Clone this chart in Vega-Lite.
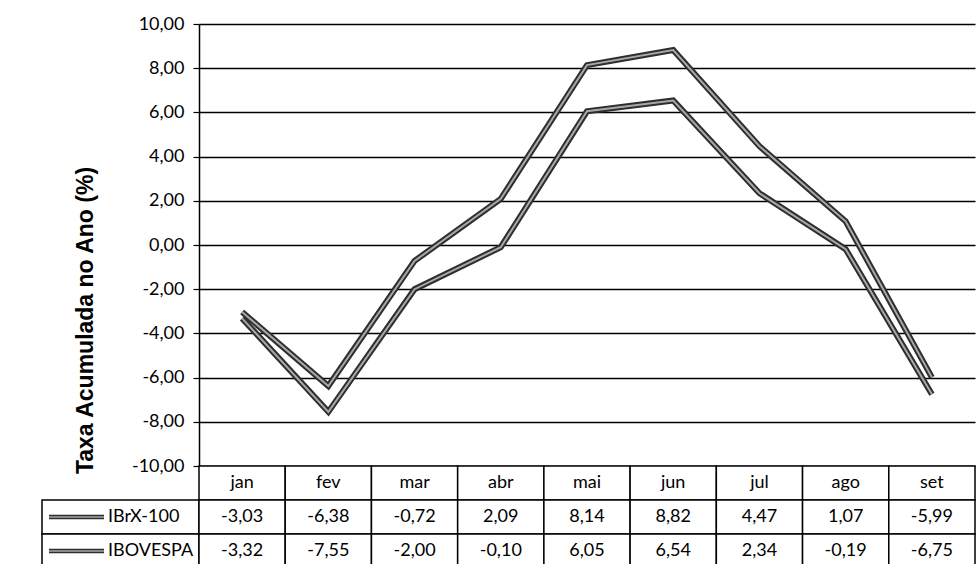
{
  "$schema": "https://vega.github.io/schema/vega-lite/v6.json",
  "padding": {"left": 40, "top": 15, "right": 0, "bottom": 0},
  "autosize": {"type": "pad"},
  "bounds": "flush",
  "spacing": 0,
  "columns": 2,
  "config": {
    "view": {"stroke": null},
    "font": "Lato",
    "locale": {"number": {"decimal": ",", "thousands": ".", "grouping": [3], "currency": ["R$", ""], "minus": "-"}}
  },
  "datasets": {
    "indices": [
      {"month": "jan", "series": "IBrX-100", "value": -3.03},
      {"month": "fev", "series": "IBrX-100", "value": -6.38},
      {"month": "mar", "series": "IBrX-100", "value": -0.72},
      {"month": "abr", "series": "IBrX-100", "value": 2.09},
      {"month": "mai", "series": "IBrX-100", "value": 8.14},
      {"month": "jun", "series": "IBrX-100", "value": 8.82},
      {"month": "jul", "series": "IBrX-100", "value": 4.47},
      {"month": "ago", "series": "IBrX-100", "value": 1.07},
      {"month": "set", "series": "IBrX-100", "value": -5.99},
      {"month": "jan", "series": "IBOVESPA", "value": -3.32},
      {"month": "fev", "series": "IBOVESPA", "value": -7.55},
      {"month": "mar", "series": "IBOVESPA", "value": -2.00},
      {"month": "abr", "series": "IBOVESPA", "value": -0.10},
      {"month": "mai", "series": "IBOVESPA", "value": 6.05},
      {"month": "jun", "series": "IBOVESPA", "value": 6.54},
      {"month": "jul", "series": "IBOVESPA", "value": 2.34},
      {"month": "ago", "series": "IBOVESPA", "value": -0.19},
      {"month": "set", "series": "IBOVESPA", "value": -6.75}
    ]
  },
  "concat": [
    {
      "width": 157, "height": 442,
      "data": {"values": []},
      "mark": "point"
    },
    {
      "width": 776, "height": 442,
      "data": {"name": "indices"},
      "encoding": {
        "x": {"field": "month", "type": "nominal", "sort": ["jan","fev","mar","abr","mai","jun","jul","ago","set"], "scale": {"type": "point", "padding": 0.5}, "axis": null},
        "y": {"field": "value", "type": "quantitative", "scale": {"domain": [-10, 10], "nice": false, "zero": false},
          "axis": {"title": "Taxa Acumulada no Ano (%)", "titleFont": "Liberation Sans", "titleFontSize": 23, "titleFontWeight": "bold", "titleColor": "black",
            "titleX": -102, "titleY": 296,
            "values": [-10,-8,-6,-4,-2,0,2,4,6,8,10], "format": ".2f", "labelFont": "Lato", "labelFontSize": 18, "labelColor": "black", "labelPadding": 9,
            "tickSize": 6, "tickColor": "black", "tickWidth": 1.2, "domainColor": "black", "domainWidth": 1.5,
            "grid": true, "gridColor": "black", "gridWidth": 1.3, "gridOpacity": 1}},
        "detail": {"field": "series", "type": "nominal"}
      },
      "layer": [
        {"mark": {"type": "line", "color": "#2e2e2e", "strokeWidth": 6}},
        {"mark": {"type": "line", "color": "#a8a8a8", "strokeWidth": 2}}
      ]
    },
    {
      "width": 157, "height": 102,
      "data": {"values": [{"series": "IBrX-100"}, {"series": "IBOVESPA"}]},
      "encoding": {"y": {"field": "series", "type": "nominal", "scale": {"domain": ["hdr","IBrX-100","IBOVESPA"], "paddingInner": 0, "paddingOuter": 0}, "axis": null}},
      "layer": [
        {"mark": {"type": "rect", "fill": "white", "stroke": "black", "strokeWidth": 1.5}},
        {"mark": {"type": "point", "shape": "stroke", "size": 3025, "color": "#2e2e2e", "strokeWidth": 4.5, "filled": false, "opacity": 1, "xOffset": -44}},
        {"mark": {"type": "point", "shape": "stroke", "size": 3025, "color": "#a8a8a8", "strokeWidth": 1.5, "filled": false, "opacity": 1, "xOffset": -44}},
        {"mark": {"type": "text", "align": "left", "xOffset": -12.5, "fontSize": 18, "color": "black"}, "encoding": {"text": {"field": "series"}}}
      ]
    },
    {
      "width": 776, "height": 102,
      "data": {"name": "indices"},
      "encoding": {"x": {"field": "month", "type": "nominal", "sort": ["jan","fev","mar","abr","mai","jun","jul","ago","set"], "scale": {"paddingInner": 0, "paddingOuter": 0}, "axis": null}},
      "layer": [
        {"transform": [{"filter": "datum.series == 'IBrX-100'"}], "mark": {"type": "rect", "fill": "white", "stroke": "black", "strokeWidth": 1.5},
          "encoding": {"y": {"datum": "hdr", "type": "nominal", "scale": {"domain": ["hdr","IBrX-100","IBOVESPA"], "paddingInner": 0, "paddingOuter": 0}, "axis": null}}},
        {"mark": {"type": "rect", "fill": "white", "stroke": "black", "strokeWidth": 1.5},
          "encoding": {"y": {"field": "series", "type": "nominal", "scale": {"domain": ["hdr","IBrX-100","IBOVESPA"], "paddingInner": 0, "paddingOuter": 0}, "axis": null}}},
        {"transform": [{"filter": "datum.series == 'IBrX-100'"}], "mark": {"type": "text", "fontSize": 18, "color": "black"},
          "encoding": {"y": {"datum": "hdr", "type": "nominal"}, "text": {"field": "month"}}},
        {"mark": {"type": "text", "fontSize": 18, "color": "black"},
          "encoding": {"y": {"field": "series", "type": "nominal"}, "text": {"field": "value", "type": "quantitative", "format": ".2f"}}}
      ]
    }
  ]
}
